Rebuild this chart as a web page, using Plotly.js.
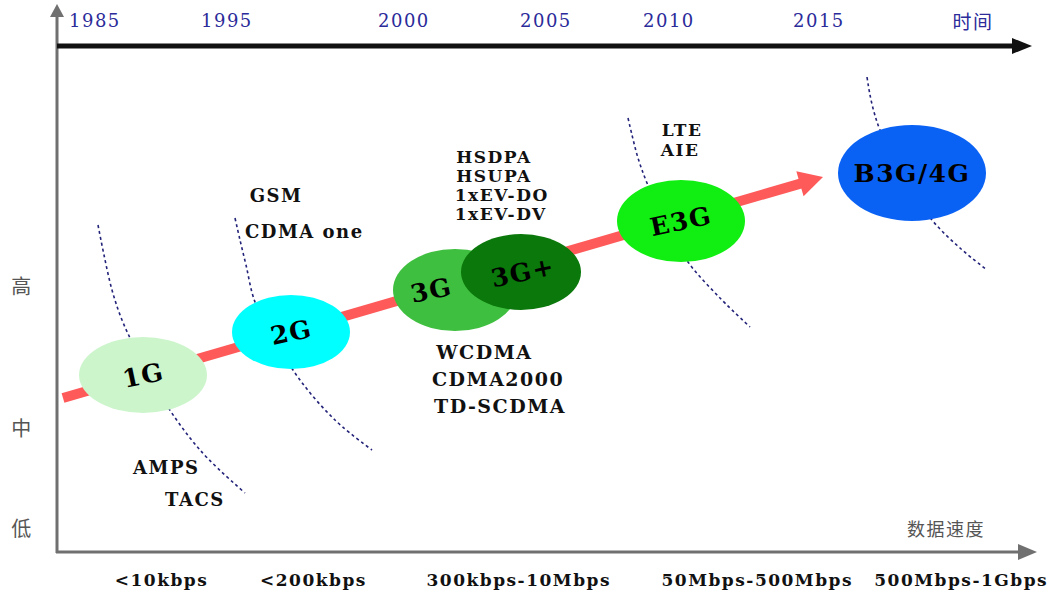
<!DOCTYPE html>
<html><head><meta charset="utf-8">
<script src="https://cdn.plot.ly/plotly-3.0.1.min.js"></script>
<style>html,body{margin:0;padding:0;background:#fff}#chart{width:1048px;height:595px}
#chart text.annotation-text{letter-spacing:1.5px}</style>
</head><body><div id="chart"></div>
<script>
// ---- data ----
const years = ['1985','1995','2000','2005','2010','2015'];
const timeLabel = '时间';
const levels = ['高','中','低'];
const speedAxisLabel = '数据速度';
const speeds = ['&lt;10kbps','&lt;200kbps','300kbps-10Mbps','50Mbps-500Mbps','500Mbps-1Gbps'];
const generations = ['1G','2G','3G','3G+','E3G','B3G/4G'];
const tech1G = ['AMPS','TACS'];
const tech2G = ['GSM','CDMA one'];
const tech3G = ['WCDMA','CDMA2000','TD-SCDMA'];
const tech3Gplus = ['HSDPA','HSUPA','1xEV-DO','1xEV-DV'];
const techE3G = ['LTE','AIE'];

// ---- layout geometry (diagram coordinates) ----
const yearX = [95,227,404,546,669,819], yearY = 20, timeX = 973;
const levelY = [285,427,527], levelX = 22;
const speedX = [161,313,518,757,961], speedY = 580;
const genCx = [143,291,455,521,681,912];
const genCy = [375,332,290,272,221,173];
const genRx = [64,59,62,60,64,74];
const genRy = [38,37,41,38,41,48];
const genColor = ['#ccf5cc','#00ffff','#3fbf3f','#0a780a','#11ee11','#0a62f5'];
const genAngle = [-12,-12,-12,-12,-12,0];
const genSize = [25,25,25,25,25,25];
const genLabelDx = [0,0,-24,2,0,0];

const techGroups = [
  {items: tech1G, x: [133,166], y0: 467, dy: 32, size: 18},
  {items: tech2G, x: [250,249], y0: 195, dy: 36, size: 18},
  {items: tech3G, x: [437,436,438], y0: 352, dy: 27, size: 19},
  {items: tech3Gplus, x: [458,458,458,458], y0: 157, dy: 19, size: 17},
  {items: techE3G, x: [662,660], y0: 130, dy: 20, size: 17}
];

const curves = [
  {x:[98,104,112,122,136,160,200,245], y:[225,255,290,320,350,395,450,493]},
  {x:[235,240,246,255,275,300,335,372], y:[218,240,265,302,340,380,420,450]},
  {x:[628,632,638,647,665,688,720,750], y:[118,135,158,183,222,262,298,327]},
  {x:[867,870,874,880,900,932,960,987], y:[77,95,112,130,172,220,248,270]}
];

const serif = 'DejaVu Serif, Liberation Serif, serif';
const cjk = 'Noto Sans CJK SC, sans-serif';

function tri(tx, ty, ux, uy, len, hw){
  const n = Math.hypot(ux,uy); ux/=n; uy/=n;
  const bx = tx-ux*len, by = ty-uy*len;
  const px = -uy, py = ux;
  return `M${tx},${ty} L${bx+px*hw},${by+py*hw} L${bx-px*hw},${by-py*hw} Z`;
}

const shapes = [];
const annotations = [];

// axes
shapes.push({type:'line', x0:57, y0:553, x1:57, y1:16, line:{color:'#707070', width:3}, layer:'above'});
shapes.push({type:'path', path: tri(57,4,0,-1,13,7), fillcolor:'#707070', line:{width:0}, layer:'above'});
shapes.push({type:'line', x0:57, y0:46, x1:1014, y1:46, line:{color:'#111', width:5}, layer:'above'});
shapes.push({type:'path', path: tri(1032,46,1,0,20,8), fillcolor:'#111', line:{width:0}, layer:'above'});
shapes.push({type:'line', x0:56, y0:552, x1:1019, y1:552, line:{color:'#707070', width:3}, layer:'above'});
shapes.push({type:'path', path: tri(1037,552,1,0,19,8), fillcolor:'#707070', line:{width:0}, layer:'above'});

// red evolution arrow
const ax0 = 63, ay0 = 398, atx = 823, aty = 177;
const dx = atx-ax0, dy = aty-ay0, dl = Math.hypot(dx,dy);
shapes.push({type:'line', x0:ax0, y0:ay0, x1:atx-dx/dl*20, y1:aty-dy/dl*20, line:{color:'#ff5a5a', width:10}, layer:'above'});
shapes.push({type:'path', path: tri(atx,aty,dx,dy,24,13), fillcolor:'#ff5a5a', line:{width:0}, layer:'above'});

// generation ellipses
generations.forEach((g,i)=>{
  shapes.push({type:'circle', x0:genCx[i]-genRx[i], x1:genCx[i]+genRx[i], y0:genCy[i]-genRy[i], y1:genCy[i]+genRy[i],
    fillcolor:genColor[i], line:{width:0}, layer:'above'});
});
generations.forEach((g,i)=>{
  annotations.push({x:genCx[i]+genLabelDx[i], y:genCy[i], text:'<b>'+g+'</b>', showarrow:false, textangle:genAngle[i],
    font:{family:serif, size:genSize[i], color:'#000'}, xanchor:'center', yanchor:'middle'});
});

// year labels
years.forEach((t,i)=>annotations.push({x:yearX[i], y:yearY, text:t, showarrow:false,
  font:{family:serif, size:18, color:'#2b2b9a'}, xanchor:'center', yanchor:'middle'}));
annotations.push({x:timeX, y:yearY, text:timeLabel, showarrow:false,
  font:{family:cjk, size:19, color:'#2b2b9a'}, xanchor:'center', yanchor:'middle'});

// level labels
levels.forEach((t,i)=>annotations.push({x:levelX, y:levelY[i], text:t, showarrow:false,
  font:{family:cjk, size:20, color:'#555'}, xanchor:'center', yanchor:'middle'}));
annotations.push({x:946, y:528, text:speedAxisLabel, showarrow:false,
  font:{family:cjk, size:18, color:'#555'}, xanchor:'center', yanchor:'middle'});

// speed labels
speeds.forEach((t,i)=>annotations.push({x:speedX[i], y:speedY, text:'<b>'+t+'</b>', showarrow:false,
  font:{family:serif, size:17, color:'#111'}, xanchor:'center', yanchor:'middle'}));

// technology lists
techGroups.forEach(gr=>gr.items.forEach((t,j)=>annotations.push({x:gr.x[j], y:gr.y0+gr.dy*j, text:'<b>'+t+'</b>',
  showarrow:false, font:{family:serif, size:gr.size, color:'#111'}, xanchor:'left', yanchor:'middle'})));

const traces = curves.map(c=>({x:c.x, y:c.y, mode:'lines', type:'scatter', hoverinfo:'skip',
  line:{color:'#23237a', width:1.6, dash:'dot', shape:'spline', smoothing:1}}));

const layout = {
  width:1048, height:595, margin:{l:0,r:0,t:0,b:0},
  paper_bgcolor:'#fff', plot_bgcolor:'#fff', showlegend:false,
  xaxis:{range:[0,1048], visible:false, fixedrange:true},
  yaxis:{range:[595,0], visible:false, fixedrange:true},
  shapes, annotations
};
Plotly.newPlot('chart', traces, layout, {displayModeBar:false, staticPlot:true});
</script></body></html>
